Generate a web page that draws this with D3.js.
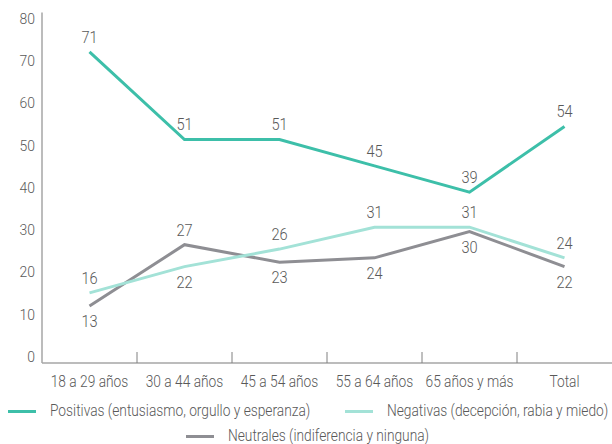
<!DOCTYPE html>
<html>
<head>
<meta charset="utf-8">
<script src="https://cdn.jsdelivr.net/npm/d3@7"></script>
<style>
  html, body { margin: 0; padding: 0; background: #fff; }
  svg text { font-family: Roboto, "Liberation Sans", sans-serif; font-weight: 300; fill: #595959; }
</style>
</head>
<body>
<svg id="chart" width="612" height="444"></svg>
<script>
// Age groups plus the overall total
const categories = ["18 a 29 años", "30 a 44 años", "45 a 54 años", "55 a 64 años", "65 años y más", "Total"];

// Share of respondents (%) by type of emotion
const positivas = [71, 51, 51, 45, 39, 54];
const negativas = [16, 22, 26, 31, 31, 24];
const neutrales = [13, 27, 23, 24, 30, 22];

const seriesNames = [
  "Positivas (entusiasmo, orgullo y esperanza)",
  "Negativas (decepción, rabia y miedo)",
  "Neutrales (indiferencia y ninguna)"
];

const yTicks = [0, 10, 20, 30, 40, 50, 60, 70, 80];

// Which side of the line each value label sits on (-1 above, 1 below)
const labelSide = [
  [-1, -1, -1, -1, -1, -1],
  [-1, 1, -1, -1, -1, -1],
  [1, -1, 1, 1, 1, 1]
];

const colors = ["#3dbfa9", "#a3e2d7", "#8e8e93"];

// squeeze text horizontally around its anchor point for a condensed face
function condense(sel, k) {
  sel.each(function () {
    const x0 = +this.getAttribute("x") || 0;
    d3.select(this).attr("transform", `translate(${x0 * (1 - k)},0) scale(${k},1)`);
  });
}
const NARROW = 0.86;

const svg = d3.select("#chart");
const plot = { left: 42, right: 612, top: 12.5, bottom: 363 };

const x = d3.scaleBand().domain(categories).range([plot.left, plot.right]);
const y = d3.scaleLinear().domain([0, 80]).range([plot.bottom, plot.top]);
// tick labels are laid out slightly inside the axis extent
const yLabel = d3.scaleLinear().domain([0, 80]).range([356.5, 18.5]);

// y axis: plain line with labels only
svg.append("line")
  .attr("x1", plot.left).attr("x2", plot.left)
  .attr("y1", y(80)).attr("y2", y(0))
  .attr("stroke", "#a6a6a6").attr("stroke-width", 1.5);

const yAxis = svg.append("g")
  .attr("transform", `translate(${plot.left - 7},0)`)
  .call(d3.axisLeft(yLabel).tickValues(yTicks).tickSize(0).tickPadding(0));
yAxis.select(".domain").remove();
yAxis.attr("font-family", null).attr("font-size", null);
yAxis.selectAll("text")
  .style("font-size", "15.5px")
  .attr("fill", "#595959")
  .call(condense, 0.9);

// x axis: baseline with upward ticks between categories
const xAxis = svg.append("g")
  .attr("transform", `translate(0,${plot.bottom})`);
xAxis.append("line")
  .attr("x1", plot.left).attr("x2", plot.right)
  .attr("stroke", "#a6a6a6").attr("stroke-width", 1.5);
xAxis.selectAll(".sep")
  .data(categories.slice(1))
  .join("line")
  .attr("class", "sep")
  .attr("x1", d => x(d)).attr("x2", d => x(d))
  .attr("y1", 0).attr("y2", -11)
  .attr("stroke", "#808080").attr("stroke-width", 1);
xAxis.selectAll(".cat")
  .data(categories)
  .join("text")
  .attr("class", "cat")
  .attr("x", d => x(d) + x.bandwidth() / 2)
  .attr("y", 18)
  .attr("dy", "0.35em")
  .attr("text-anchor", "middle")
  .style("font-size", "16px")
  .text(d => d)
  .call(condense, NARROW);

const cx = d => x(d) + x.bandwidth() / 2;
const allSeries = [positivas, negativas, neutrales];
const line = d3.line()
  .x((d, i) => cx(categories[i]))
  .y(d => y(d));

// draw the gray series underneath the teal ones
[2, 1, 0].forEach(s => {
  svg.append("path")
    .datum(allSeries[s])
    .attr("fill", "none")
    .attr("stroke", colors[s])
    .attr("stroke-width", 3)
    .attr("stroke-linejoin", "miter")
    .attr("d", line);
});

allSeries.forEach((vals, s) => {
  svg.selectAll(".lbl" + s)
    .data(vals)
    .join("text")
    .attr("class", "lbl" + s)
    .attr("x", (d, i) => cx(categories[i]))
    .attr("y", (d, i) => y(d) + labelSide[s][i] * 15)
    .attr("dy", "0.35em")
    .attr("text-anchor", "middle")
    .style("font-size", "17px")
    .text(d => d)
    .call(condense, NARROW);
});

// legend
const legendItems = [
  { s: 0, x: 8, y: 411.5 },
  { s: 1, x: 345, y: 411.5 },
  { s: 2, x: 186, y: 436.5 }
];
const lg = svg.append("g");
legendItems.forEach(it => {
  lg.append("line")
    .attr("x1", it.x).attr("x2", it.x + 28)
    .attr("y1", it.y).attr("y2", it.y)
    .attr("stroke", colors[it.s]).attr("stroke-width", 3);
  lg.append("text")
    .attr("x", it.x + 42)
    .attr("y", it.y - 1.5)
    .attr("dy", "0.35em")
    .style("font-size", "16px")
    .text(seriesNames[it.s])
    .call(condense, NARROW);
});
</script>
</body>
</html>
